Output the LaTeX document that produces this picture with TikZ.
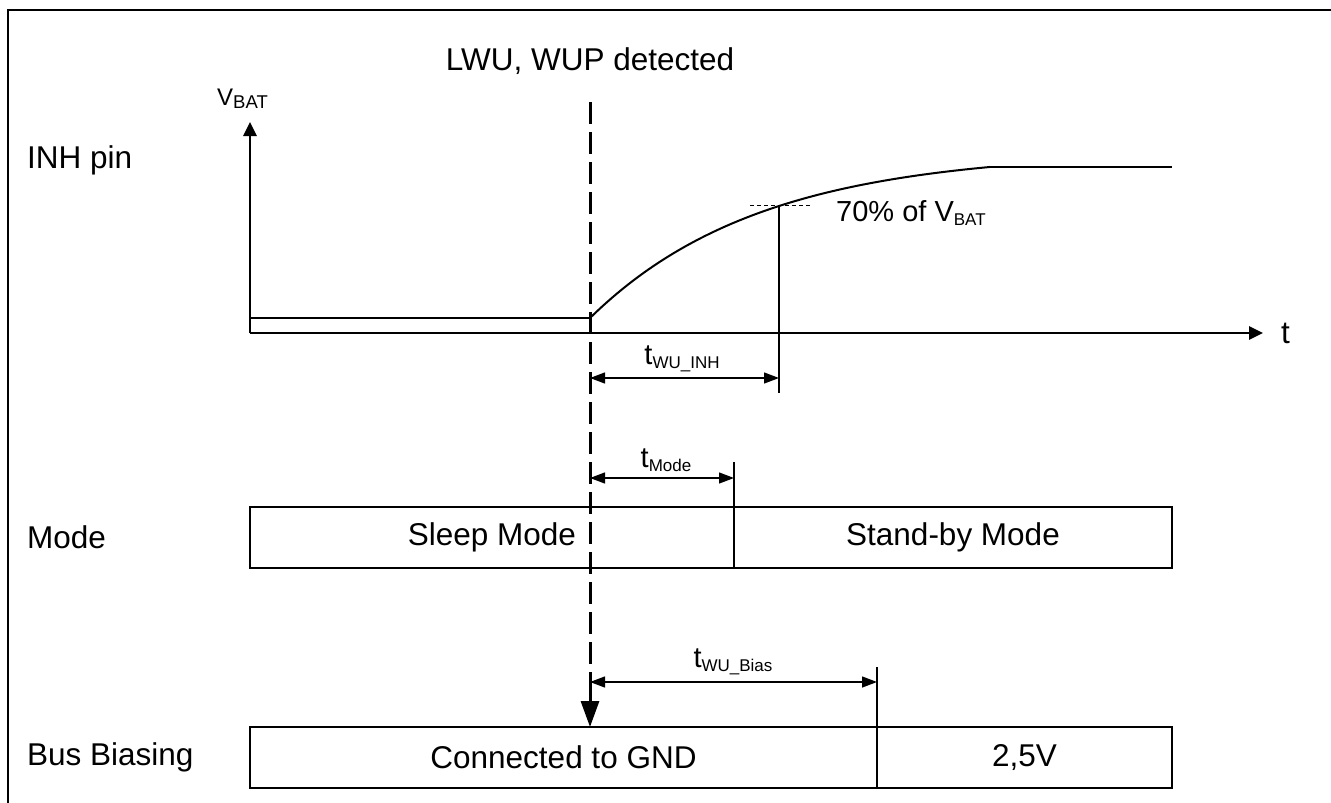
\documentclass[tikz,border=0pt]{standalone}
\usepackage{fontspec}
\setmainfont{Liberation Sans}
\usetikzlibrary{arrows.meta}
\newcommand{\mainsz}{\fontsize{31.5}{36}\selectfont}
\newcommand{\labsz}{\fontsize{29}{32}\selectfont}
\newcommand{\subsz}{\fontsize{17}{19}\selectfont}
\newcommand{\lowsub}[1]{\raisebox{-3.5pt}{\subsz #1}}
\begin{document}
\begin{tikzpicture}[x=1pt,y=-1pt,
  axis/.style={line width=2.6pt,-{Triangle[length=14pt,width=13pt]}},
  sig/.style={line width=2.8pt},
  thinline/.style={line width=1.3pt},
  dim/.style={line width=1.3pt,{Triangle[length=15pt,width=11pt]}-{Triangle[length=15pt,width=11pt]}},
  dashline/.style={line width=3pt,dash pattern=on 22pt off 8pt},
  stbox/.style={draw,line width=2.3pt,inner sep=0pt,outer sep=0pt,minimum height=61pt,anchor=north west,font=\mainsz},
  sidelabel/.style={anchor=west,inner sep=0pt,font=\mainsz},
  txt/.style={inner sep=0pt}]
\useasboundingbox (0,0) rectangle (1331,803);
% frame
\draw[line width=2pt] (8,803) -- (8,10) -- (1331,10);
% side labels
\node[sidelabel] (linh) at (27,160) {INH pin};
\node[sidelabel] (lmode) at (27,537) {Mode};
\node[sidelabel] (lbus) at (27,757) {Bus Biasing};
\node[txt,font=\mainsz] (lwu) at (590,61) {LWU, WUP detected};
% axes
\coordinate (O) at (250,333);
\coordinate (Ytop) at (250,122);
\coordinate (Tend) at (1263,333);
\draw[axis] (O) -- (Ytop);
\draw[axis] (O) -- (Tend);
\node[txt,anchor=west] (vbat) at (217,99) {\fontsize{24}{26}\selectfont V\raisebox{-3pt}{\fontsize{18.5}{20}\selectfont BAT}};
\node[txt,anchor=west,font=\mainsz] (tlab) at (1281,333) {t};
% signal
\coordinate (low0) at (250,318);
\coordinate (low1) at (590,318);
\coordinate (high0) at (990,167);
\coordinate (high1) at (1172,167);
\draw[sig] (low0) -- (low1);
\draw[line width=2pt] plot[domain=0:400,samples=80,smooth] ({590+\x},{318-151*(1-exp(-\x/170))/0.9048});
\draw[sig] (high0) -- (high1);
% 70% marker
\coordinate (p70) at (779,205);
\coordinate (p70b) at (779,393);
\draw[thinline] (p70) -- (p70b);
\draw[line width=1pt,dash pattern=on 4pt off 3pt] (750,205) -- (810,205);
\node[txt,anchor=west] (l70) at (836,213) {\labsz 70\% of V\lowsub{BAT}};
% dashed event line
\coordinate (d0) at (590,102);
\coordinate (d1) at (590,680);
\coordinate (d2) at (590,727);
\draw[dashline] (d0) -- (d1);
\draw[line width=3pt,-{Triangle[length=26pt,width=18pt]}] (d1) -- (d2);
% tWU_INH
\coordinate (a0) at (590,378);
\coordinate (a1) at (779,378);
\draw[dim] (a0) -- (a1);
\node[txt] (tinh) at (682,359) {\labsz t\lowsub{WU\_INH}};
% mode boxes
\node[stbox,minimum width=484pt] (sleep) at (250,507) {Sleep Mode};
\node[stbox,minimum width=438pt] (standby) at (734,507) {Stand-by Mode};
\coordinate (m0) at (734,462);
\draw[thinline] (m0) -- (sleep.north east);
\coordinate (b0) at (590,478);
\coordinate (b1) at (734,478);
\draw[dim] (b0) -- (b1);
\node[txt] (tmode) at (666,460) {\labsz t\lowsub{Mode}};
% bus boxes
\node[stbox,minimum width=627pt] (gnd) at (250,727) {Connected to GND};
\node[stbox,minimum width=295pt] (v25) at (877,727) {2,5V};
\coordinate (c0) at (877,667);
\draw[thinline] (c0) -- (gnd.north east);
\coordinate (e0) at (590,682);
\coordinate (e1) at (877,682);
\draw[dim] (e0) -- (e1);
\node[txt] (tbias) at (733,662) {\labsz t\lowsub{WU\_Bias}};
\end{tikzpicture}
\end{document}
